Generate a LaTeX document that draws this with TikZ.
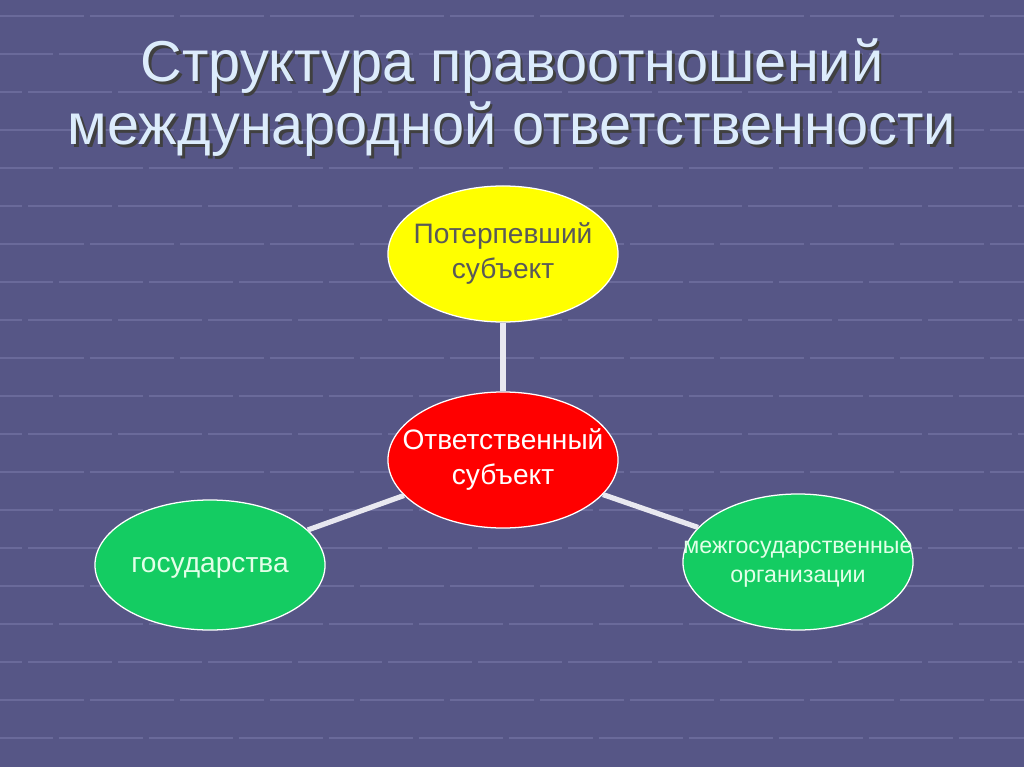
\documentclass[tikz,border=0pt]{standalone}
\usepackage{fontspec}
\setmainfont{Liberation Sans}
\usepackage{tikz}
\usetikzlibrary{positioning,
				shapes.geometric}
\definecolor{slidebg}{RGB}{86,86,134}
\definecolor{gridcol}{RGB}{106,106,154}
\definecolor{titlecol}{RGB}{220,236,252}
\definecolor{spokecol}{RGB}{232,232,240}
\definecolor{ovalyellow}{RGB}{255,255,0}
\definecolor{ovalred}{RGB}{255,0,0}
\definecolor{ovalgreen}{RGB}{20,204,98}
\definecolor{greentext}{RGB}{226,255,232}
\newcommand{\inoval}[1]{\makebox[0pt]{\begin{tabular}{@{}c@{}}#1\end{tabular}}}

\begin{document}
\begin{tikzpicture}[x=0.025cm,y=-0.025cm,
		oval/.style={ellipse,draw=white,line width=0.9pt,minimum width=5.75cm,
			minimum height=3.4cm,inner sep=0pt,
			font=\fontsize{20}{25}\selectfont},
		spoke/.style={draw=spokecol,line width=0.13cm},
		gridline/.style={draw=gridcol,line width=0.05cm,dash pattern=on 2.1cm off 0.15cm},
		heading/.style={anchor=base,font=\fontsize{41}{45}\selectfont}]
		\useasboundingbox (0,0) rectangle (1024,767);
		\fill[slidebg] (0,0) rectangle (1024,767);
		\foreach \r [evaluate=\r as \ph using {mod(\r,3)*22}] in {0,...,20}
			\draw[gridline,dash phase=\ph pt] (0,{\r*38+16}) -- (1024,{\r*38+16});

		% title
		\node[heading,text=black!75] (shade1) at (514.5,84.5) {Структура правоотношений};
		\node[heading,text=black!75] (shade2) at (514.5,147.5) {международной ответственности};
		\node[heading,text=titlecol] (title1) at (512,82) {Структура правоотношений};
		\node[heading,text=titlecol] (title2) at (512,145) {международной ответственности};

		% ovals
		\node[oval,fill=ovalyellow,text=black!65] (victim) at (503,254) {\inoval{Потерпевший\\субъект}};
		\node[oval,fill=ovalred,text=white] (liable) at (503,460) {\inoval{Ответственный\\субъект}};
		\node[oval,fill=ovalgreen,text=greentext,minimum height=3.25cm] (states) at (210,565) {\inoval{государства}};
		\node[oval,fill=ovalgreen,text=greentext,font=\fontsize{16.5}{21}\selectfont] (orgs) at (798,562) {\inoval{межгосударственные\\организации}};

		\draw[spoke] (victim) -- (liable);
		\draw[spoke] (liable) -- (states);
		\draw[spoke] (liable) -- (orgs);
\end{tikzpicture}
\end{document}
